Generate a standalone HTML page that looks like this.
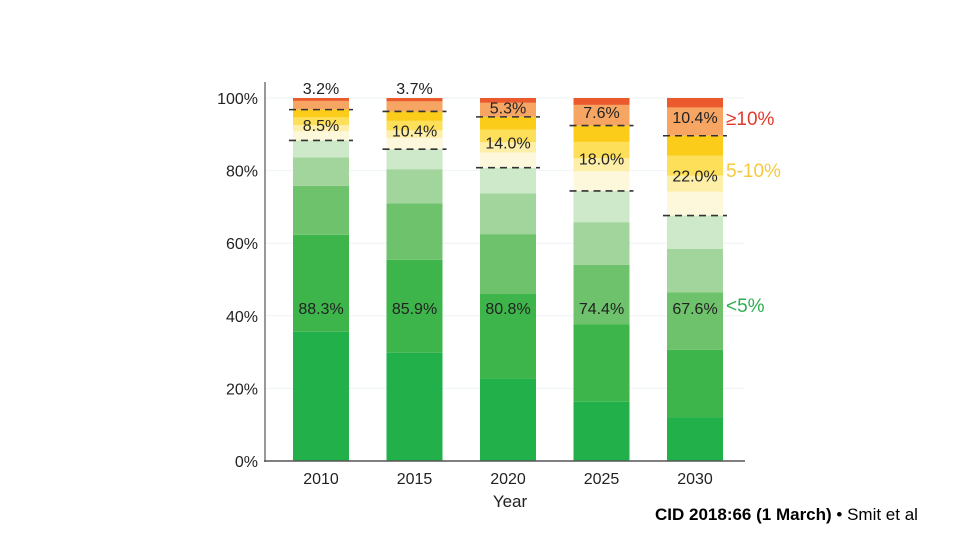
<!DOCTYPE html>
<html><head><meta charset="utf-8"><style>
body{margin:0;width:960px;height:540px;background:#fff;overflow:hidden;font-family:"Liberation Sans",sans-serif}
</style></head><body>
<svg id="chart" width="960" height="540" xmlns="http://www.w3.org/2000/svg" font-family="Liberation Sans, sans-serif"></svg>
<div style="position:absolute;left:655px;top:505px;font-size:17px;color:#000;white-space:nowrap"><b>CID 2018:66 (1 March)</b> • Smit et al</div>
<script>
const years=["2010","2015","2020","2025","2030"];
const greenTotal=[88.3,85.9,80.8,74.4,67.6];
const yellowBand=[8.5,10.4,14.0,18.0,22.0];
const orangeBand=[3.2,3.7,5.3,7.6,10.4];
const green1=[35.6,29.8,22.7,16.3,12.0];
const green2=[62.3,55.4,46.0,37.7,30.6];
const green3=[75.8,71.0,62.5,54.0,46.5];
const green4=[83.6,80.4,73.7,65.8,58.4];
const yTicks=[0,20,40,60,80,100];
const svg=document.getElementById('chart');
const NS="http://www.w3.org/2000/svg";
const y0=461,pxPer=3.63;
function Y(v){return y0-v*pxPer;}
function X(i){return 293+i*93.5;}
const bw=56;
function el(t,a,p){const e=document.createElementNS(NS,t);for(const k in a)e.setAttribute(k,a[k]);(p||svg).appendChild(e);return e;}
yTicks.forEach(t=>{
 const g=el('line',{x1:265,x2:745,y1:Y(t),y2:Y(t),stroke:'#eef4f6','stroke-width':1});
 
 
 const tx=el('text',{x:258,y:Y(t)+6,'text-anchor':'end','font-size':16,fill:'#222'});
 tx.textContent=t+'%';
 
 
});
function seg(i,a,b,c,name){
 const r=el('rect',{x:X(i),y:Y(b),width:bw,height:Math.max(0,Y(a)-Y(b)),fill:c});
 
 
}
years.forEach((yr,i)=>{
 const g=greenTotal[i],yb=yellowBand[i],top=g+yb;
 seg(i,0,green1[i],'#22b04b','green-seg-1');
 seg(i,green1[i],green2[i],'#3db54b','green-seg-2');
 seg(i,green2[i],green3[i],'#6dc26b','green-seg-3');
 seg(i,green3[i],green4[i],'#a2d59c','green-seg-4');
 seg(i,green4[i],g,'#cee9c9','green-seg-5');
 seg(i,g,g+yb*0.3,'#fdf7dc','yellow-seg-1');
 seg(i,g+yb*0.3,g+yb*0.5,'#fdeea8','yellow-seg-2');
 seg(i,g+yb*0.5,g+yb*0.75,'#fddf5a','yellow-seg-3');
 seg(i,g+yb*0.75,top,'#fbcd1a','yellow-seg-4');
 seg(i,top,100-orangeBand[i]*0.25,'#f6a563','orange-seg');
 seg(i,100-orangeBand[i]*0.25,100,'#eb5a2c','red-seg');
 [g,top].forEach(v=>{
  const d=el('line',{x1:X(i)-4,x2:X(i)+bw+4,y1:Y(v),y2:Y(v),stroke:'#333','stroke-width':1.6,'stroke-dasharray':'7,5'});
  
  
 });
 const cx=X(i)+bw/2;
 const gl=el('text',{x:cx,y:Y(40)-2,'text-anchor':'middle','font-size':16,fill:'#222'});
 gl.textContent=g.toFixed(1)+'%';
 
 
 const yl=el('text',{x:cx,y:Y(g+yb/2)+6,'text-anchor':'middle','font-size':16,fill:'#222'});
 yl.textContent=yb.toFixed(1)+'%';
 
 
 const oy=orangeBand[i]<4?Y(100)-4:Y(100-orangeBand[i]/2)+6;
 const ol=el('text',{x:cx,y:oy,'text-anchor':'middle','font-size':16,fill:'#222'});
 ol.textContent=orangeBand[i].toFixed(1)+'%';
 
 
 const xl=el('text',{x:cx,y:484,'text-anchor':'middle','font-size':16,fill:'#222'});
 xl.textContent=yr;
 
 
});
const ax=el('line',{x1:265,x2:265,y1:82,y2:462,stroke:'#555','stroke-width':1.2});


const bx=el('line',{x1:264,x2:745,y1:461,y2:461,stroke:'#555','stroke-width':1.5});


const xt=el('text',{x:510,y:507,'text-anchor':'middle','font-size':17,fill:'#222'});
xt.textContent='Year';


[["≥10%",'#e03a2c',125,'legend-high'],["5-10%",'#f7c93c',177,'legend-mid'],["<5%",'#2fae50',312,'legend-low']].forEach(l=>{
 const t=el('text',{x:726,y:l[2],'font-size':19,fill:l[1]});
 t.textContent=l[0];
 
 
});
</script>
</body></html>
